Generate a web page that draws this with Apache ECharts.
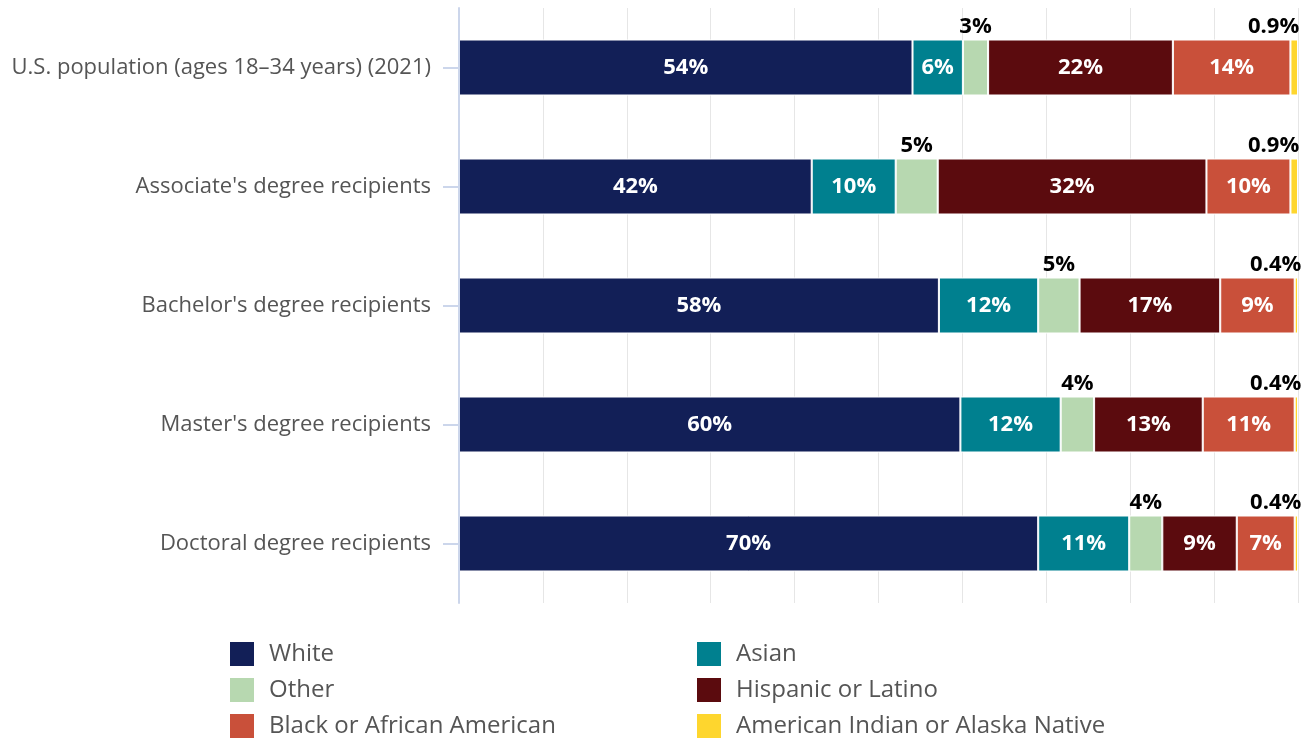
<!DOCTYPE html>
<html>
<head>
<meta charset="utf-8">
<script src="https://cdn.jsdelivr.net/npm/echarts@6/dist/echarts.min.js"></script>
<style>
  html, body { margin: 0; padding: 0; background: #fff; }
  #chart { width: 1309px; height: 742px; }
</style>
</head>
<body>
<div id="chart"></div>
<script>
// categories (top to bottom)
const categories = [
  'U.S. population (ages 18–34 years) (2021)',
  "Associate's degree recipients",
  "Bachelor's degree recipients",
  "Master's degree recipients",
  'Doctoral degree recipients'
]
// raw percentages per group, as labelled
const white = [54, 42, 58, 60, 70]
const asian = [6, 10, 12, 12, 11]
const other = [3, 5, 5, 4, 4]
const hispanic = [22, 32, 17, 13, 9]
const black = [14, 10, 9, 11, 7]
const amIndian = [0.9, 0.9, 0.4, 0.4, 0.4]

const seriesDefs = [
  {name: 'White', data: white, color: '#121f57', outside: false},
  {name: 'Asian', data: asian, color: '#00808f', outside: false},
  {name: 'Other', data: other, color: '#b7d8b0', outside: true},
  {name: 'Hispanic or Latino', data: hispanic, color: '#5b0b0e', outside: false},
  {name: 'Black or African American', data: black, color: '#c9503a', outside: false},
  {name: 'American Indian or Alaska Native', data: amIndian, color: '#fed62e', outside: true, right: true}
]

// percent stacking: each bar is scaled to 100
const totals = categories.map((c, i) => seriesDefs.reduce((s, d) => s + d.data[i], 0))

const font = 'Open Sans'

let chartDom = document.getElementById('chart')
let myChart = echarts.init(chartDom)

let series = seriesDefs.map(d => {
  let label = {
    show: true,
    fontFamily: font,
    fontWeight: 'bold',
    fontSize: 22,
    formatter: p => d.data[p.dataIndex] + '%'
  }
  if (d.outside) {
    label.position = 'top'
    label.distance = 2
    label.color = '#000'
    if (d.right) {
      label.align = 'right'
      label.offset = [5, 0]
    }
  } else {
    label.position = 'inside'
    label.color = '#fff'
  }
  return {
    name: d.name,
    type: 'bar',
    stack: 'total',
    barWidth: 56,
    data: d.data.map((v, i) => v / totals[i] * 100),
    itemStyle: {color: d.color, borderColor: '#fff', borderWidth: 1},
    label: label,
    emphasis: {disabled: true}
  }
})

let option = {
  animation: false,
  grid: {left: 459, right: 11, top: 8, bottom: 139, containLabel: false},
  legend: {
    left: 230,
    top: 642,
    width: 1000,
    padding: 0,
    itemWidth: 24,
    itemHeight: 24,
    itemGap: 12,
    icon: 'rect',
    itemStyle: {borderWidth: 0},
    data: seriesDefs.map(d => d.name),
    textStyle: {
      fontFamily: font,
      fontSize: 24,
      color: '#555',
      width: 416,
      lineHeight: 24,
      padding: [0, 0, 0, 10]
    }
  },
  xAxis: {
    type: 'value',
    min: 0,
    max: 100,
    interval: 10,
    axisLabel: {show: false},
    axisLine: {show: false},
    axisTick: {show: false},
    splitLine: {lineStyle: {color: '#e6e6e6', width: 1}}
  },
  yAxis: {
    type: 'category',
    inverse: true,
    z: 3,
    data: categories,
    axisLine: {show: true, lineStyle: {color: '#ccd6eb', width: 2}},
    axisTick: {show: true, alignWithLabel: true, length: 16, lineStyle: {color: '#ccd6eb', width: 2}},
    axisLabel: {fontFamily: font, fontSize: 22, color: '#555', margin: 28}
  },
  series: series
}
myChart.setOption(option)
</script>
</body>
</html>
